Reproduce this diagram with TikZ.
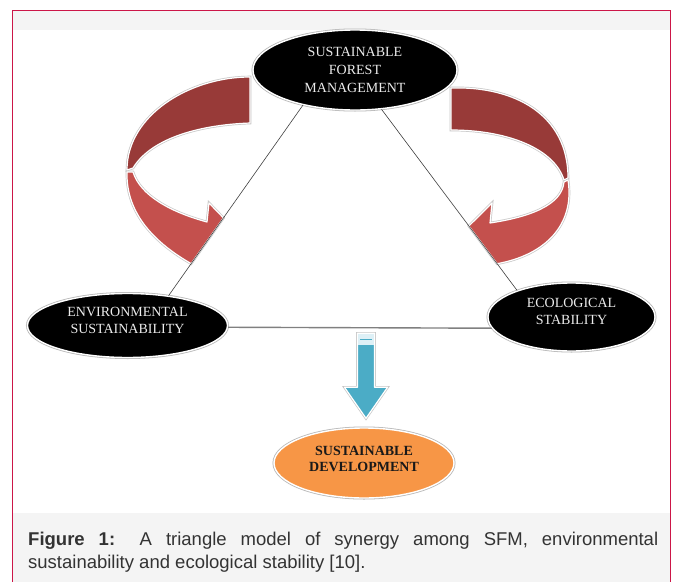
\documentclass[tikz,border=0pt]{standalone}
\usepackage{fontspec}
\setmainfont{Liberation Serif}
\newfontfamily\capfont{Liberation Sans}
\usepackage{xcolor}
\usepackage{tikz}
\usetikzlibrary{shapes.geometric, positioning, calc, backgrounds}
\definecolor{framered}{RGB}{204,22,72}
\definecolor{panelgrey}{RGB}{244,244,244}
\definecolor{bandback}{RGB}{152,58,56}
\definecolor{bandfront}{RGB}{196,80,77}
\definecolor{sdorange}{RGB}{247,150,70}
\definecolor{dropblue}{RGB}{75,172,198}
\definecolor{dropcap}{RGB}{222,240,246}
\tikzset{
  hub/.style={ellipse, fill=black, draw=white, line width=1.4pt,
              preaction={draw=black!28, line width=3pt},
              text=black!8, align=center, inner sep=0pt,
              font=\fontsize{14}{17}\selectfont},
  goal/.style={hub, fill=sdorange, text=black!90,
               font=\fontsize{14}{16}\selectfont\bfseries},
  triline/.style={draw=black!75, line width=0.6pt},
  floorline/.style={draw=black!50, line width=1.4pt},
  band/.style={draw=white, line width=1.2pt, line join=round,
               preaction={draw=black!22, line width=2.6pt}},
  flow/.style={fill=dropblue, draw=white, line width=1.2pt, line join=round,
               preaction={draw=black!22, line width=2.6pt}},
  caption/.style={text width=630pt, align=justify, inner sep=0pt, text=black!80,
                  font=\capfont\fontsize{18.5}{23}\selectfont},
}

\begin{document}
\begin{tikzpicture}[x=1pt, y=-1pt, on grid]
  \useasboundingbox (0,0) rectangle (677,581);
  \clip (0,0) rectangle (677,581);

  \node[hub, minimum width=204pt, minimum height=80pt, font=\fontsize{14}{18}\selectfont] (sfm) at (355,70) {SUSTAINABLE\\FOREST\\MANAGEMENT};
  \node[hub, minimum width=200pt, minimum height=64pt, text depth=11pt, below left=255.5pt and 227.5pt of sfm] (env) {ENVIRONMENTAL\\SUSTAINABILITY};
  \node[hub, minimum width=167pt, minimum height=68pt, text depth=11pt, below right=247pt and 216.5pt of sfm] (eco) {ECOLOGICAL\\STABILITY};
  \node[goal, minimum width=180pt, minimum height=70pt, text depth=8pt, below right=393pt and 9pt of sfm] (sd) {SUSTAINABLE\\DEVELOPMENT};

  % arrow heads sit on the triangle sides
  \coordinate (ltip)  at ($(sfm.214)!0.592!(env.36)$);
  \coordinate (lfoot) at ($(sfm.214)!0.832!(env.36)$);
  \coordinate (rtip)  at ($(sfm.304)!0.644!(eco.154)$);
  \coordinate (rfoot) at ($(sfm.304)!0.852!(eco.154)$);

  \begin{scope}[on background layer]
    \fill[white] (0,0) rectangle (677,581);
    \filldraw[draw=framered, fill=panelgrey, line width=1pt] (12,10) rectangle (670,600);
    \fill[white] (12.5,30) rectangle (669.5,513);
    % left curved arrow
    \filldraw[band, fill=bandback] (250,77) .. controls (190,77) and (127,115) .. (127,170)
      -- (133,168) .. controls (150,140) and (195,125) .. (250,123) -- cycle;
    \filldraw[band, fill=bandfront] (127,172) .. controls (126,210) and (150,240) .. (lfoot)
      -- (ltip) -- (209,203) -- (207,222) .. controls (170,212) and (140,195) .. (133,172) -- cycle;
    % right curved arrow
    \filldraw[band, fill=bandback] (451,88) .. controls (515,86) and (568,115) .. (568,178)
      -- (564,180) .. controls (555,150) and (510,130) .. (451,130) -- cycle;
    \filldraw[band, fill=bandfront] (568,180) .. controls (575,225) and (545,255) .. (rfoot)
      -- (rtip) -- (492,203) -- (490,223) .. controls (530,217) and (562,205) .. (564,182) -- cycle;
  \end{scope}

  \draw[triline] (sfm.214) -- (env.36);
  \draw[triline] (sfm.304) -- (eco.154);
  \draw[floorline] (env.-1) -- (eco.188);

  % block arrow down to sustainable development
  \coordinate (droptip) at ($(sd.north)+(2,-9)$);
  \filldraw[flow] (droptip) -- ++(-21.5,-31) -- ++(13,0) -- ++(0,-54) -- ++(17,0)
    -- ++(0,54) -- ++(13,0) -- cycle;
  \fill[dropcap] ($(droptip)+(-7.6,-84.2)$) rectangle ($(droptip)+(7.6,-73)$);
  \draw[dropblue, line width=1.2pt] ($(droptip)+(-6,-78.5)$) -- ($(droptip)+(6,-78.5)$);

  \node[caption, anchor=north west] (cap) at (28,532)
    {\textbf{Figure 1:} A triangle model of synergy among SFM, environmental\linebreak
     sustainability and ecological stability [10].};
\end{tikzpicture}
\end{document}
